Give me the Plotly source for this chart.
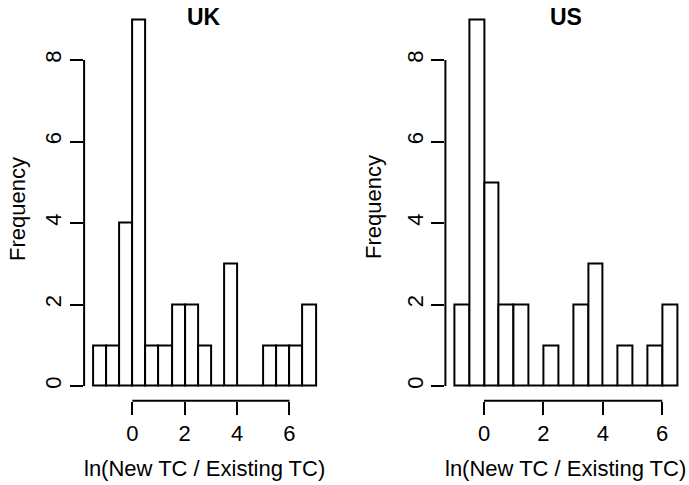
import plotly.graph_objects as go

# ---- data ----
uk_bin_start = -1.5
uk_counts = [1, 1, 4, 9, 1, 1, 2, 2, 1, 0, 3, 0, 0, 1, 1, 1, 2]
us_bin_start = -1.0
us_counts = [2, 9, 5, 2, 2, 0, 1, 0, 2, 3, 0, 1, 0, 1, 2]
bin_width = 0.5
x_ticks = [0, 2, 4, 6]
y_ticks = [0, 2, 4, 6, 8]
titles = ["UK", "US"]
x_title = "ln(New TC / Existing TC)"
y_title = "Frequency"

W, H = 689, 485
FONT = "Liberation Sans, Arial, Helvetica, sans-serif"
LW = 2

def px(x):
    return x / W

def py(y):
    return 1 - y / H

panels = [
    dict(start=uk_bin_start, counts=uk_counts, dom=[px(84.1), px(324.6)],
         xa="x", ya="y", title=titles[0], ytitle_x=17, ytitle_y=209),
    dict(start=us_bin_start, counts=us_counts, dom=[px(445.4), px(686.0)],
         xa="x2", ya="y2", title=titles[1], ytitle_x=373, ytitle_y=207),
]
ydom = [py(400.7), py(4.6)]

fig = go.Figure()
shapes = []
annotations = []
for i, p in enumerate(panels):
    n = len(p["counts"])
    centers = [p["start"] + bin_width * (k + 0.5) for k in range(n)]
    fig.add_trace(go.Bar(
        x=centers, y=p["counts"], width=bin_width,
        marker=dict(color="white", line=dict(color="black", width=LW)),
        xaxis=p["xa"], yaxis=p["ya"], showlegend=False, hoverinfo="x+y",
    ))
    lo = p["start"]
    hi = p["start"] + bin_width * n
    pad = 0.04 * (hi - lo)
    ymax = max(p["counts"])
    suffix = "" if i == 0 else str(i + 1)
    common_font = dict(family=FONT, size=22, color="black")
    fig.layout["xaxis" + suffix] = dict(
        domain=p["dom"], range=[lo - pad, hi + pad], anchor=p["ya"],
        tickvals=x_ticks, ticktext=[str(t) for t in x_ticks],
        ticks="outside", ticklen=13, tickwidth=LW, tickcolor="black",
        showgrid=False, zeroline=False, showline=False, tickfont=common_font,
        fixedrange=True,
    )
    fig.layout["yaxis" + suffix] = dict(
        domain=ydom, range=[-0.04 * ymax, ymax * 1.04], anchor=p["xa"],
        tickvals=y_ticks, ticktext=[str(t) for t in y_ticks],
        ticks="outside", ticklen=13, tickwidth=LW, tickcolor="black",
        tickangle=-90,
        showgrid=False, zeroline=False, showline=False, tickfont=common_font,
        fixedrange=True,
    )
    # R-style axis lines spanning only first to last tick
    shapes.append(dict(type="line", xref=p["xa"], yref="paper",
                       x0=x_ticks[0], x1=x_ticks[-1], y0=ydom[0], y1=ydom[0],
                       line=dict(color="black", width=LW)))
    shapes.append(dict(type="line", xref="paper", yref=p["ya"],
                       x0=p["dom"][0], x1=p["dom"][0], y0=y_ticks[0], y1=y_ticks[-1],
                       line=dict(color="black", width=LW)))
    # panel title
    annotations.append(dict(text="<b>%s</b>" % p["title"], xref="paper", yref="paper",
                            x=(p["dom"][0] + p["dom"][1]) / 2, y=py(17),
                            xanchor="center", yanchor="middle", showarrow=False,
                            font=dict(family=FONT, size=23, color="black")))
    # x title
    annotations.append(dict(text=x_title, xref="paper", yref="paper",
                            x=(p["dom"][0] + p["dom"][1]) / 2, y=py(468),
                            xanchor="center", yanchor="middle", showarrow=False,
                            font=dict(family=FONT, size=22, color="black")))
    # y title
    annotations.append(dict(text=y_title, xref="paper", yref="paper",
                            x=px(p["ytitle_x"]), y=py(p["ytitle_y"]),
                            xanchor="center", yanchor="middle", showarrow=False,
                            textangle=-90,
                            font=dict(family=FONT, size=22, color="black")))

fig.update_layout(
    width=W, height=H, margin=dict(l=0, r=0, t=0, b=0),
    paper_bgcolor="white", plot_bgcolor="white",
    shapes=shapes, annotations=annotations, bargap=0,
    font=dict(family=FONT, size=22, color="black"),
)
fig.write_html("out.html", config={"displayModeBar": False},
               post_script="document.body.style.margin='0';document.body.style.padding='0';")
